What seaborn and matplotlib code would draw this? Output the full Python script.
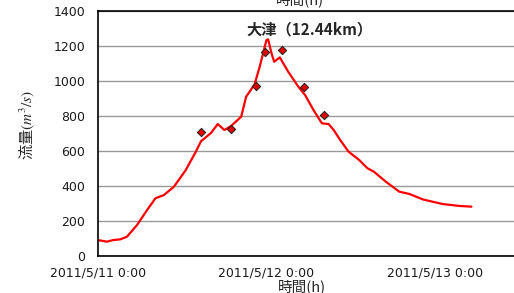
import numpy as np
import matplotlib
matplotlib.use("Agg")
import matplotlib.pyplot as plt
import pandas as pd
import seaborn as sns

# computed discharge (hours from 2011/5/11 0:00, m3/s)
calc_hours = [0.0, 1.25, 2.16, 3.16, 4.12, 5.56, 7.0, 8.19, 9.38, 10.82, 12.5, 13.94,
              14.66, 16.1, 17.06, 18.0, 18.97, 20.4, 21.1, 22.3, 23.04, 24.0, 24.24,
              24.72, 25.1, 25.9, 27.1, 28.55, 29.5, 30.7, 31.9, 32.86, 33.58, 34.5,
              35.7, 37.2, 38.4, 39.3, 41.0, 42.9, 44.4, 46.3, 49.1, 51.5, 53.2]
calc_flow = [91, 82, 91, 95, 110, 177, 263, 330, 348, 396, 491, 596,
             655, 703, 754, 720, 743, 796, 910, 980, 1082, 1234, 1238,
             1158, 1110, 1135, 1053, 967, 920, 834, 758, 754, 720, 663,
             596, 549, 501, 482, 425, 368, 354, 323, 297, 286, 282]

# observed discharge
obs_hours = [14.7, 18.9, 22.5, 23.8, 26.2, 29.4, 32.2]
obs_flow = [711, 724, 971, 1164, 1177, 964, 806]

tick_hours = [0, 24, 48]
tick_labels = ["2011/5/11 0:00", "2011/5/12 0:00", "2011/5/13 0:00"]
y_ticks = [0, 200, 400, 600, 800, 1000, 1200, 1400]

sns.set_style("white")
plt.rcParams['font.family'] = ['DejaVu Sans', 'Noto Sans CJK JP']
plt.rcParams['mathtext.fontset'] = 'stix'

calc = pd.DataFrame({"hours": calc_hours, "flow": calc_flow})
obs = pd.DataFrame({"hours": obs_hours, "flow": obs_flow})

fig = plt.figure(figsize=(5.14, 2.93), dpi=100)
ax = fig.add_axes([98/514, 1-256/293, 1.01-98/514, (256-11)/293])

sns.lineplot(data=calc, x="hours", y="flow", color="#ff0000", linewidth=1.6, ax=ax)
sns.scatterplot(data=obs, x="hours", y="flow", marker="D", s=18, color="#e00000",
                edgecolor="#202020", linewidth=0.7, ax=ax, zorder=5)

ax.set_xlim(0, 60)
ax.set_ylim(0, 1400)
ax.set_yticks(y_ticks)
ax.set_xticks(tick_hours)
ax.set_xticklabels(tick_labels)
ax.tick_params(axis='both', labelsize=9, direction='out', length=4, width=1,
               color='black', labelcolor='#1a1a1a')
ax.tick_params(axis='y', pad=5)
ax.yaxis.grid(True, color='#999999', linewidth=1)
ax.set_axisbelow(True)
for s in ['left', 'bottom', 'top']:
    ax.spines[s].set_color('black')
    ax.spines[s].set_linewidth(1.2)
ax.spines['right'].set_visible(False)
ax.set_xlabel("")
ax.set_ylabel("")

cjk = ['Noto Sans CJK JP', 'DejaVu Sans']
fig.text(309/514, 1-29/293, "大津（12.44km）", ha='center', va='center',
         fontsize=11, fontweight='bold', family=cjk)
fig.text(302/514, 1-287/293, "時間(h)", ha='center', va='center', fontsize=10.5, family=cjk)
fig.text(300/514, 1.0, "時間(h)", ha='center', va='center', fontsize=10.5, family=cjk)
fig.text(27/514, 1-125/293, "流量$(m^3/s)$", ha='center', va='center', rotation=90,
         fontsize=11, family=cjk)

fig.savefig("out.png", dpi=100)
